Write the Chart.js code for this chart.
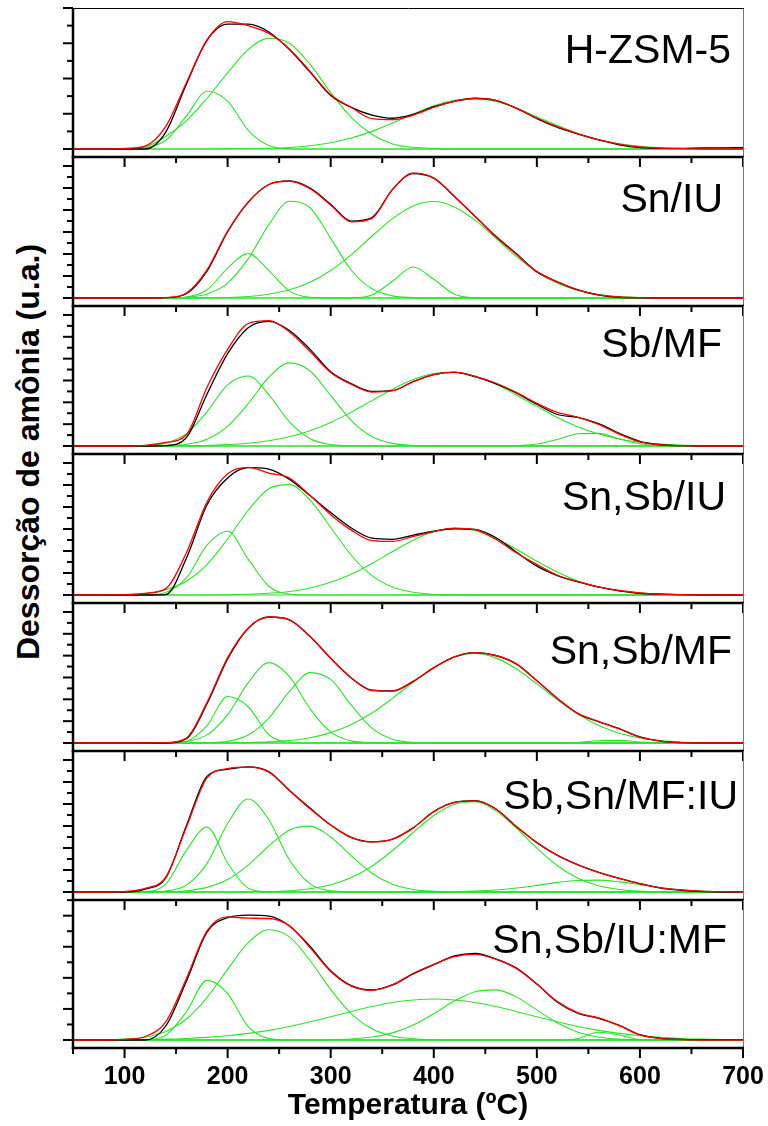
<!DOCTYPE html>
<html>
<head>
<meta charset="utf-8">
<script src="https://cdn.jsdelivr.net/npm/chart.js@4.4.1/dist/chart.umd.min.js"></script>
<style>
  html, body { margin: 0; padding: 0; background: #fff; }
  #page { position: relative; width: 768px; height: 1126px; overflow: hidden; background: #fff; }
  #page canvas { position: absolute; left: 0; }
  #ylabel {
    position: absolute; left: 28px; top: 452px;
    transform: translate(-50%, -50%) rotate(-90deg);
    font: bold 32px "Liberation Sans", Arial, sans-serif;
    line-height: 1; white-space: nowrap; color: #000;
  }
</style>
</head>
<body>
<div id="page">
  <div id="ylabel">Dessorção de amônia (u.a.)</div>
</div>
<script>
// temperature grid (ºC) shared by all curves
const temps = [50, 60, 80, 100, 120, 140, 160, 180, 200, 220, 240, 260, 280, 300, 320, 340, 360,
  380, 400, 420, 440, 460, 480, 500, 520, 540, 560, 580, 600, 620, 640, 660, 680, 700];

const sampleNames = ['H-ZSM-5', 'Sn/IU', 'Sb/MF', 'Sn,Sb/IU', 'Sn,Sb/MF', 'Sb,Sn/MF:IU', 'Sn,Sb/IU:MF'];

// H-ZSM-5
const hzsmExp = [0,0,0,0,0,12,46,77,88.5,88.5,83,70.5,54.5,38,29.5,24,21.8,24.5,30,33.8,36,34.5,29,21.5,15.3,10.5,6.5,3,1,0.5,0.5,0.8,0.8,1];
const hzsmFit = [0,0,0,0.3,2,16,47,77.5,90.4,87.5,82,71,55,38.5,29.5,21.5,20.8,24,29.5,33.8,35.8,34.5,29,22,15.8,10.8,6.5,3.5,1.5,0.6,0.2,0,0,0];
const hzsmPeaks = [
  [0,0,0,0,0.8,6.2,23.3,41,34,13.2,2.4,0.2,0,0,0,0,0,0,0,0,0,0,0,0,0,0,0,0,0,0,0,0,0,0],
  [0,0,0,0.5,1.5,9,20,36,54,70.5,78.5,75,60,40,22.5,10.5,3.5,1.2,0.4,0,0,0,0,0,0,0,0,0,0,0,0,0,0,0],
  [0,0,0,0,0,0,0,0,0.1,0.2,0.5,1.1,2.3,4.4,7.8,12.5,18.4,24.9,30.7,34.6,35.7,33.7,29.1,22.9,16.6,11,6.6,3.7,1.9,0.9,0.4,0.1,0,0]
];

// Sn/IU
const snIuExp = [0,0,0,0,0,0.2,3,19,47,68,80.5,83,78,66.5,54.5,57,77,88.3,85,72,58,44,31.5,18.7,11.5,5.7,2,0.5,0.1,0,0,0,0,0];
const snIuFit = [0,0,0,0,0,0.3,3.5,20,47.5,68,80.5,82.8,77.5,66,54,56.5,77,88.5,85,72,58,43.5,31,18.5,11.5,5.8,2.2,0.7,0.2,0,0,0,0,0];
const snIuPeaks = [
  [0,0,0,0,0,0,0.7,5.8,21.2,31.6,19.4,4.9,0.5,0,0,0,0,0,0,0,0,0,0,0,0,0,0,0,0,0,0,0,0,0],
  [0,0,0,0,0,0.1,0.5,2.8,10.6,27.9,52,68.6,64,42.3,19.7,6.5,1.5,0.3,0,0,0,0,0,0,0,0,0,0,0,0,0,0,0,0],
  [0,0,0,0,0,0,0,0,0,0,0,0,0,0,0.1,2.1,11.9,22,13.3,2.7,0.2,0,0,0,0,0,0,0,0,0,0,0,0,0],
  [0,0,0,0,0,0,0.05,0.15,0.4,1.1,2.7,5.8,11.2,19.5,30.8,43.8,56.3,65.3,68.4,64.6,55.2,42.5,29.5,18.5,10.5,5.4,2.5,1,0.4,0.1,0,0,0,0]
];

// Sb/MF
const sbMfExp = [0,0,0,0,0,0.3,6,37,66,84.5,89,82.5,69,53,44.5,39,39.5,46,51,52.6,49.5,44.5,38,29.8,22.5,20.5,16,9,3.3,0.9,0.2,0,0,0];
const sbMfFit = [0,0,0,0,0.5,2.5,8,42,69,87.5,89.5,81.5,67.5,52.5,44,38.5,39.5,46,51,52.7,49.8,45,38.3,30.5,24,20.5,15.5,8.5,3,0.8,0.2,0,0,0];
const sbMfPeaks = [
  [0,0,0,0,0.3,2,8.8,24.5,43.7,50,36.6,17.2,5.2,1,0.1,0,0,0,0,0,0,0,0,0,0,0,0,0,0,0,0,0,0,0],
  [0,0,0,0,0,0.2,1.2,4.8,14,30.3,49.1,59.4,53.6,36.1,18.2,6.8,1.9,0.4,0.1,0,0,0,0,0,0,0,0,0,0,0,0,0,0,0],
  [0,0,0,0,0,0,0.2,0.4,1,2,3.7,6.6,10.9,16.8,24.2,32.4,40.6,47.5,51.8,52.7,50,44.3,36.6,28.3,20.3,13.6,8.6,5,2.7,1.4,0.7,0.3,0.1,0],
  [0,0,0,0,0,0,0,0,0,0,0,0,0,0,0,0,0,0,0,0,0,0,0.2,1.4,4.7,8.7,9,5.1,1.6,0.3,0,0,0,0]
];

// Sn,Sb/IU
const snSbIuExp = [0,0,0,0,0,0.3,26,64,83,90.3,89.3,82,70.5,58.5,47.5,40.3,39.5,42.5,45.3,47,46.5,40.8,30.5,20.5,13.8,9.3,5.6,3,1.2,0.6,0.2,0,0,0];
const snSbIuFit = [0,0,0,0.3,1.2,4.5,30,66,86,90.5,86.5,83,70.5,57,46,38.6,38,41.5,45,47.5,46.3,39.5,30,21.7,14,9.5,5.8,3.2,1.5,0.6,0.2,0,0,0];
const snSbIuPeaks = [
  [0,0,0,0,0.1,1.8,12.1,35.3,45.2,25.4,6.2,0.7,0,0,0,0,0,0,0,0,0,0,0,0,0,0,0,0,0,0,0,0,0,0],
  [0,0,0,0.3,1.1,3.7,9.8,21.6,39.7,60.1,75.4,78.3,67.3,47.9,28.2,13.7,5.6,1.9,0.5,0.1,0,0,0,0,0,0,0,0,0,0,0,0,0,0],
  [0,0,0,0,0,0,0,0,0.2,0.5,1.2,2.5,5,9,14.8,22.4,30.8,38.9,44.8,47.3,45.6,40.3,32.5,24,16.2,10,5.7,2.9,1.4,0.6,0.2,0.1,0,0]
];

// Sn,Sb/MF
const snSbMfExp = [0,0,0,0,0,0,3,28,60,82,90,88,76,60.5,46.5,37.8,37.2,44,53.7,61.5,64.6,62.5,56.5,44.5,31.8,21,15.3,10.2,4.3,1.4,0.3,0,0,0];
const snSbMfFit = [0,0,0,0,0,0.2,3.5,29,61,82,90,88,76,60.5,46.5,37.5,37,44,53.7,61.5,64.5,62.5,56.5,44.5,31.8,21,15.3,10,4.2,1.4,0.3,0,0,0];
const snSbMfPeaks = [
  [0,0,0,0,0,0,1.3,12.4,33.2,25.9,5.9,0.4,0,0,0,0,0,0,0,0,0,0,0,0,0,0,0,0,0,0,0,0,0,0],
  [0,0,0,0,0,0.1,1.1,5.8,20.1,43.1,57.4,47.4,24.4,7.8,1.5,0.2,0,0,0,0,0,0,0,0,0,0,0,0,0,0,0,0,0,0],
  [0,0,0,0,0,0,0,0.2,1.2,5.7,17.8,36.8,50.3,45.4,27,10.6,2.7,0.5,0,0,0,0,0,0,0,0,0,0,0,0,0,0,0,0],
  [0,0,0,0,0,0,0,0,0.1,0.3,0.8,1.8,3.8,7.4,13.2,21.4,31.9,43.4,53.9,61.4,63.9,60.8,53,42.2,30.8,20.5,12.5,7,3.6,1.7,0.7,0.3,0.1,0],
  [0,0,0,0,0,0,0,0,0,0,0,0,0,0,0,0,0,0,0,0,0,0,0,0,0,0.4,1.6,1.9,0.7,0.1,0,0,0,0]
];

// Sb,Sn/MF:IU
const sbSnMfIuExp = [0,0,0,0,2,10,47,82,87,88.8,85.5,72,59.5,47.5,38.8,35.6,37.5,45.5,57,63.5,64.8,59,46.5,35,26,19.3,14,9.7,6,2.8,1.2,0.3,0,0];
const sbSnMfIuFit = [0,0,0,0.3,2.5,10.5,46,81,87.5,88.5,85,72,59,47.5,38.5,35.5,37.5,45.5,57,63.5,64.6,59,46.5,35,26,19.3,14,9.6,5.8,3,1.5,0.6,0.2,0];
const sbSnMfIuPeaks = [
  [0,0,0,0,0.3,5.6,29.5,46,20.6,2.7,0.1,0,0,0,0,0,0,0,0,0,0,0,0,0,0,0,0,0,0,0,0,0,0,0],
  [0,0,0,0,0,0.7,4.9,20.3,48.4,66,51.2,22.7,5.8,0.8,0.1,0,0,0,0,0,0,0,0,0,0,0,0,0,0,0,0,0,0,0],
  [0,0,0,0,0,0.2,0.9,3.3,8.8,19.1,32.6,44,46.7,39,25.7,13.3,5.5,1.8,0.5,0.1,0,0,0,0,0,0,0,0,0,0,0,0,0,0],
  [0,0,0,0,0,0,0,0,0,0.1,0.3,0.9,2.3,5.1,10.2,18.3,29.4,42.2,54.2,62.2,64,57.7,45.4,31.1,18.6,9.7,4.4,1.8,0.6,0.2,0,0,0,0],
  [0,0,0,0,0,0,0,0,0,0,0,0,0,0,0,0,0,0,0.1,0.2,0.6,1.4,2.8,4.7,6.8,8.2,8.4,7.2,5.2,3.1,1.6,0.7,0.2,0.1]
];

// Sn,Sb/IU:MF
const snSbIuMfExp = [0,0,0,0,0,10,42,77,87.4,89.2,88.5,81.5,66.8,49.5,38.8,35.7,39.3,47.2,53.8,60,61.8,58,51.5,40,27,19,15.5,10.5,3.8,1.2,0.5,0.2,0.2,0.2];
const snSbIuMfFit = [0,0,0,0.5,2.5,13,44,78,88,87,86.8,81.5,66,49,38.5,35.5,39.5,47.5,54,59.5,61.2,57.8,51.2,40,27.4,19.4,15.8,10.2,3.6,1,0.2,0,0,0];
const snSbIuMfPeaks = [
  [0,0,0,0,0.2,3.5,20.2,42.6,33.2,9.5,1,0,0,0,0,0,0,0,0,0,0,0,0,0,0,0,0,0,0,0,0,0,0,0],
  [0,0,0,0.6,2,6.1,15,30.3,50.5,69.5,78.8,73.7,56.8,36,18.9,8.1,2.9,0.9,0.2,0,0,0,0,0,0,0,0,0,0,0,0,0,0,0],
  [0,0,0.1,0.2,0.4,0.6,1.1,1.9,3,4.7,6.9,9.7,13,16.6,20.4,23.9,26.8,28.6,29.3,28.6,26.8,23.9,20.4,16.6,13,9.7,6.9,4.7,3,1.9,1.1,0.6,0.4,0.2],
  [0,0,0,0,0,0,0,0,0,0,0,0,0,0.2,0.7,2.1,5.1,10.7,18.8,27.8,34.5,35.8,30.8,21.5,12.2,5.6,2.1,0.6,0.2,0,0,0,0,0],
  [0,0,0,0,0,0,0,0,0,0,0,0,0,0,0,0,0,0,0,0,0,0,0,0,0,1.1,5.5,3.6,0.3,0,0,0,0,0]
];

const expCurves = [hzsmExp, snIuExp, sbMfExp, snSbIuExp, snSbMfExp, sbSnMfIuExp, snSbIuMfExp];
const fitCurves = [hzsmFit, snIuFit, sbMfFit, snSbIuFit, snSbMfFit, sbSnMfIuFit, snSbIuMfFit];
const peakCurves = [hzsmPeaks, snIuPeaks, sbMfPeaks, snSbIuPeaks, snSbMfPeaks, sbSnMfIuPeaks, snSbIuMfPeaks];

// page layout of the stacked panels (px)
const panelTop = [8, 157, 306, 454, 603, 751, 900];
const panelAxis = [157, 306, 454, 603, 751, 900, 1048];
const yTickStep = [12.5, 7.8, 7.8, 7.8, 7.8, 7.8, 11.1];
const labelRight = [731, 723, 722, 726, 732, 738, 727];
const labelBase = [55, 55, 51, 56, 61, 58, 53];

const FONT = '"Liberation Sans", Arial, Helvetica, sans-serif';
const GREEN = 'rgb(40, 228, 40)';

function toPoints(values) {
  return values.map((v, i) => ({ x: temps[i], y: v }));
}

function lineSet(values, color, width, order) {
  return {
    data: toPoints(values),
    borderColor: color,
    borderWidth: width,
    pointRadius: 0,
    fill: false,
    cubicInterpolationMode: 'monotone',
    order: order
  };
}

// axes, ticks, frame and sample name of one panel
const panelFrame = {
  id: 'panelFrame',
  afterDatasetsDraw(chart, args, opts) {
    const { ctx, chartArea: a, scales: { x, y } } = chart;
    ctx.save();
    // right border
    ctx.strokeStyle = '#777';
    ctx.lineWidth = 1;
    ctx.beginPath();
    ctx.moveTo(a.right + 0.5, a.top);
    ctx.lineTo(a.right + 0.5, a.bottom);
    ctx.stroke();
    if (opts.first) {
      ctx.strokeStyle = '#000';
      ctx.beginPath();
      ctx.moveTo(a.left, a.top + 0.5);
      ctx.lineTo(a.right + 1, a.top + 0.5);
      ctx.stroke();
    }
    ctx.strokeStyle = '#000';
    ctx.lineWidth = 2.5;
    ctx.beginPath();
    ctx.moveTo(a.left, a.top);
    ctx.lineTo(a.left, a.bottom + 1);
    ctx.stroke();
    ctx.beginPath();
    ctx.moveTo(a.left - 1.2, a.bottom);
    ctx.lineTo(a.right + 1, a.bottom);
    ctx.stroke();

    // y ticks, upward from the baseline
    ctx.lineWidth = 2;
    for (let k = 0; ; k++) {
      const py = y.getPixelForValue(k * opts.yStep);
      if (py < a.top - 0.5) break;
      const len = k % 2 === 0 ? 10 : 6;
      ctx.beginPath();
      ctx.moveTo(a.left, py);
      ctx.lineTo(a.left - len, py);
      ctx.stroke();
    }
    // x ticks below the axis
    for (let t = 50; t <= 700; t += 50) {
      const px = x.getPixelForValue(t);
      const len = t % 100 === 0 ? 10 : 6;
      ctx.beginPath();
      ctx.moveTo(px, a.bottom);
      ctx.lineTo(px, a.bottom + len);
      ctx.stroke();
    }

    ctx.fillStyle = '#000';
    ctx.font = '41px ' + FONT;
    ctx.textAlign = 'right';
    ctx.textBaseline = 'alphabetic';
    ctx.fillText(opts.label, opts.labelX, a.top + opts.labelDy);
    ctx.restore();
  }
};

const page = document.getElementById('page');

sampleNames.forEach((name, i) => {
  const last = i === sampleNames.length - 1;
  const top = panelTop[i] - 4;
  const bottom = last ? 1126 : panelAxis[i] + 16;
  const canvas = document.createElement('canvas');
  canvas.width = 768;
  canvas.height = bottom - top;
  canvas.style.top = top + 'px';
  page.appendChild(canvas);

  const plotPx = panelAxis[i] - panelTop[i];
  const yMin = -8 / (plotPx - 8) * 100;

  const datasets = [
    lineSet(fitCurves[i], '#ff0000', 1.3, 0),
    lineSet(expCurves[i], '#000000', 1.3, 1)
  ];
  peakCurves[i].forEach(p => datasets.push(lineSet(p, GREEN, 1.1, 2)));
  datasets.push({
    data: [{ x: 50, y: 0 }, { x: 700, y: 0 }],
    borderColor: GREEN, borderWidth: 1.2, pointRadius: 0, order: 3
  });

  const xScale = {
    type: 'linear', min: 50, max: 700, display: false
  };
  if (last) {
    Object.assign(xScale, {
      display: true,
      // invisible tick marks only push the labels down; the real marks come from panelFrame
      grid: { display: true, drawOnChartArea: false, drawTicks: true, tickLength: 11, color: 'rgba(0,0,0,0)' },
      border: { display: false },
      ticks: {
        stepSize: 50, autoSkip: false, maxRotation: 0, padding: 3, color: '#000',
        font: { family: FONT, size: 25, weight: 'bold' },
        callback: v => (v % 100 === 0 ? String(v) : '')
      },
      title: {
        display: true, text: 'Temperatura (ºC)', color: '#000',
        font: { family: FONT, size: 30, weight: 'bold' },
        padding: { top: 0, bottom: 2 }
      },
      afterFit: s => { s.height = 78; }
    });
  }

  new Chart(canvas, {
    type: 'line',
    data: { datasets: datasets },
    options: {
      responsive: false,
      animation: false,
      devicePixelRatio: 1,
      events: [],
      layout: { padding: { left: 73, right: 25, top: 4, bottom: last ? 0 : 16 } },
      scales: {
        x: xScale,
        y: { type: 'linear', min: yMin, max: 100, display: false }
      },
      plugins: {
        legend: { display: false },
        tooltip: { enabled: false },
        panelFrame: {
          first: i === 0,
          yStep: yTickStep[i],
          label: name,
          labelX: labelRight[i],
          labelDy: labelBase[i]
        }
      }
    },
    plugins: [panelFrame]
  });
});
</script>
</body>
</html>
